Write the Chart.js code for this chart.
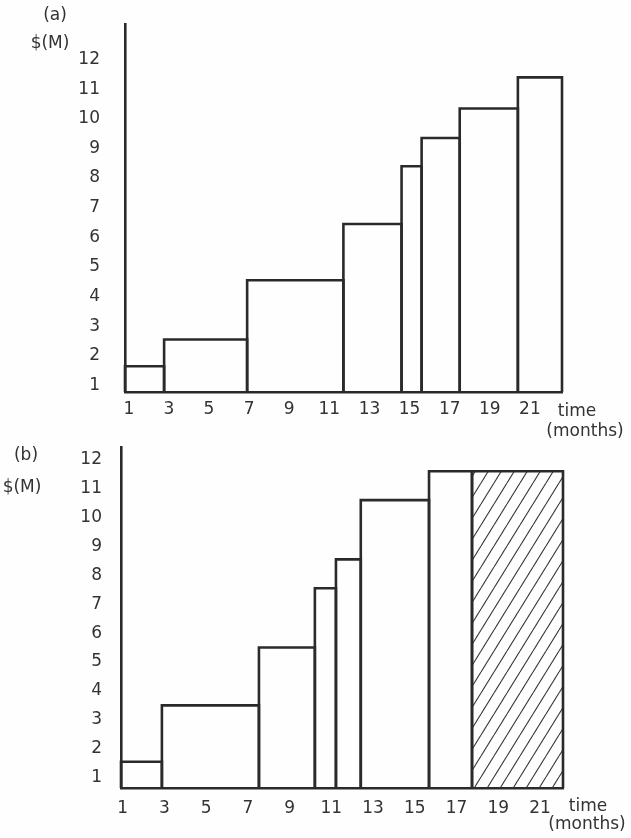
<!DOCTYPE html>
<html>
<head>
<meta charset="utf-8">
<script src="https://cdn.jsdelivr.net/npm/chart.js@4"></script>
<style>
  body { margin: 0; background: #fefefe; width: 631px; height: 838px; position: relative; overflow: hidden;
         font-family: "DejaVu Sans", sans-serif; color: #333; }
  canvas { position: absolute; left: 0; }
  #chartA { top: 0; }
  #chartB { top: 420px; }
  .lbl { position: absolute; font-size: 17px; line-height: 20px; transform: translate(-50%, -50%); white-space: nowrap; }
</style>
</head>
<body>
<canvas id="chartA" width="631" height="440"></canvas>
<canvas id="chartB" width="631" height="418"></canvas>

<div class="lbl" style="left:55px; top:14px">(a)</div>
<div class="lbl" style="left:50px; top:42px">$(M)</div>
<div class="lbl" style="left:577px; top:410px">time</div>
<div class="lbl" style="left:585px; top:430px">(months)</div>

<div class="lbl" style="left:26px; top:454px">(b)</div>
<div class="lbl" style="left:22px; top:486px">$(M)</div>
<div class="lbl" style="left:588px; top:805px">time</div>
<div class="lbl" style="left:587px; top:823px">(months)</div>

<script>
const monthTicks = [1, 3, 5, 7, 9, 11, 13, 15, 17, 19, 21];
const dollarTicks = [1, 2, 3, 4, 5, 6, 7, 8, 9, 10, 11, 12];

// (a) month boundaries of each step and the $M level reached in it
const edgesA = [0.81, 2.76, 6.9, 11.7, 14.6, 15.6, 17.5, 20.4, 22.6];
const spendA = [1.65, 2.55, 4.55, 6.45, 8.4, 9.35, 10.35, 11.4];

// (b) same, last step is the hatched one
const edgesB = [0.92, 2.88, 7.53, 10.21, 11.22, 12.41, 15.68, 17.74, 22.1];
const spendB = [1.55, 3.5, 5.5, 7.55, 8.55, 10.6, 11.6, 11.6];
const hatchB = [false, false, false, false, false, false, false, true];

const ink = '#2a2a2a';
const textInk = '#333';
const tickFont = { family: 'DejaVu Sans', size: 17 };

function hatchPattern() {
    const c = document.createElement('canvas');
    c.width = 13;
    c.height = 21;
    const g = c.getContext('2d');
    g.strokeStyle = '#333';
    g.lineWidth = 1.1;
    for (const dx of [-13, 0, 13]) {
        g.beginPath();
        g.moveTo(dx, 21);
        g.lineTo(dx + 13, 0);
        g.stroke();
    }
    return g.createPattern(c, 'repeat');
}
const pattern = hatchPattern();

function buildDatasets(edges, values, base, hatched) {
    return values.map((v, i) => {
        const hatch = hatched ? hatched[i] : false;
        return {
            data: [
                { x: edges[i], y: base },
                { x: edges[i], y: v },
                { x: edges[i + 1], y: v },
                { x: edges[i + 1], y: base }
            ],
            showLine: true,
            borderColor: ink,
            borderWidth: 2.6,
            borderJoinStyle: 'miter',
            pointRadius: 0,
            tension: 0,
            clip: 4,
            fill: hatch ? 'start' : false,
            backgroundColor: hatch ? pattern : 'transparent'
        };
    });
}

// no extra room for half labels, the chart area is set by padding + afterFit
function noPad(s) {
    s.paddingTop = 0;
    s.paddingBottom = 0;
    s.paddingLeft = 0;
    s.paddingRight = 0;
}

function makeChart(id, edges, values, hatched, opt) {
    const ctx = document.getElementById(id).getContext('2d');
    return new Chart(ctx, {
        type: 'scatter',
        data: { datasets: buildDatasets(edges, values, opt.yMin, hatched) },
        options: {
            responsive: false,
            animation: false,
            events: [],
            layout: { padding: { top: opt.top, right: opt.right, left: 0, bottom: 0 } },
            plugins: { legend: { display: false }, tooltip: { enabled: false } },
            scales: {
                x: {
                    type: 'linear',
                    min: edges[0],
                    max: edges[edges.length - 1],
                    afterBuildTicks: s => { s.ticks = monthTicks.map(v => ({ value: v })); },
                    afterFit: s => { s.height = opt.xHeight; noPad(s); },
                    grid: { display: false, drawTicks: false },
                    border: { display: true, color: ink, width: 2.6 },
                    ticks: { color: textInk, font: tickFont, padding: opt.xPad, autoSkip: false, maxRotation: 0 }
                },
                y: {
                    type: 'linear',
                    min: opt.yMin,
                    max: opt.yMax,
                    afterBuildTicks: s => { s.ticks = dollarTicks.map(v => ({ value: v })); },
                    afterFit: s => { s.width = opt.yWidth; noPad(s); },
                    grid: { display: false, drawTicks: false },
                    border: { display: true, color: ink, width: 2.6 },
                    ticks: { color: textInk, font: tickFont, padding: opt.yPad, autoSkip: false }
                }
            }
        }
    });
}

makeChart('chartA', edgesA, spendA, null, {
    yMin: 0.78, yMax: 13.2, top: 24, right: 69, yWidth: 125, xHeight: 48, yPad: 25, xPad: 7
});

makeChart('chartB', edgesB, spendB, hatchB, {
    yMin: 0.64, yMax: 12.44, top: 27, right: 68, yWidth: 121, xHeight: 50, yPad: 19, xPad: 10
});
</script>
</body>
</html>
